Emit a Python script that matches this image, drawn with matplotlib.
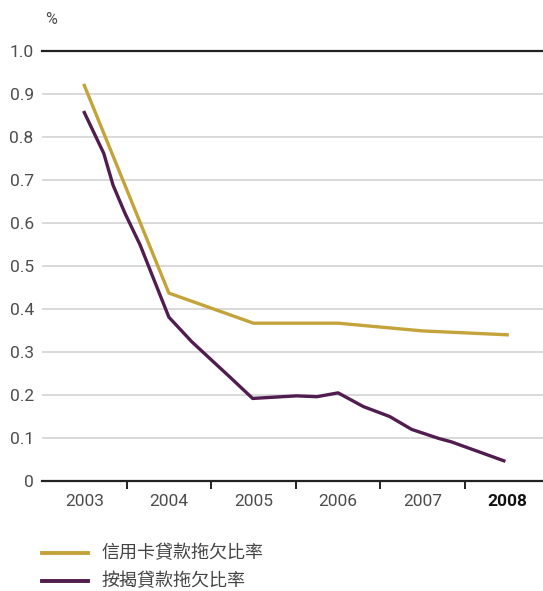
import matplotlib
matplotlib.use("Agg")
import matplotlib.pyplot as plt
from matplotlib.lines import Line2D

# delinquency ratios (%), x in fractional years
card_years = [2003.0, 2004.0, 2005.0, 2006.0, 2006.5, 2007.0, 2008.0]
card_ratio = [0.920, 0.437, 0.367, 0.367, 0.358, 0.349, 0.340]

mortgage_years = [2003.0, 2003.23, 2003.34, 2003.48, 2003.66, 2004.0, 2004.27,
                  2004.5, 2004.72, 2004.99, 2005.51, 2005.75, 2006.0, 2006.3,
                  2006.61, 2006.87, 2007.19, 2007.34, 2007.96]
mortgage_ratio = [0.857, 0.762, 0.688, 0.623, 0.549, 0.381, 0.324, 0.282,
                  0.242, 0.192, 0.198, 0.196, 0.205, 0.173, 0.150, 0.120,
                  0.099, 0.091, 0.047]

year_labels = ["2003", "2004", "2005", "2006", "2007", "2008"]
y_ticks = [0, 0.1, 0.2, 0.3, 0.4, 0.5, 0.6, 0.7, 0.8, 0.9, 1.0]
y_labels = ["0", "0.1", "0.2", "0.3", "0.4", "0.5", "0.6", "0.7", "0.8", "0.9", "1.0"]
series_names = ["信用卡貸款拖欠比率", "按揭貸款拖欠比率"]

GOLD = "#c4a33a"
PURPLE = "#511d4f"
TEXT = "#4d4d4d"
NUM_FONT = ["Roboto", "DejaVu Sans"]
CJK_FONT = ["Noto Sans CJK TC", "DejaVu Sans"]

W, H = 543, 591
fig = plt.figure(figsize=(W / 100, H / 100), dpi=100)
ax = fig.add_axes([42 / W, 1 - 481 / H, 1 - 42 / W, (481 - 51) / H])

# grid
for v in y_ticks[1:-1]:
    ax.axhline(v, color="#d3d3d3", lw=1.2, zorder=1)
ax.axhline(1.0, color="#222222", lw=1.6, zorder=2, clip_on=False)
ax.axhline(0.0, color="#222222", lw=1.6, zorder=2, clip_on=False)

ax.plot(card_years, card_ratio, color=GOLD, lw=2.4, zorder=3)
ax.plot(mortgage_years, mortgage_ratio, color=PURPLE, lw=2.4, zorder=4)

ax.set_xlim(2002.5, 2008.423)
ax.set_ylim(0, 1.0)
for s in ax.spines.values():
    s.set_visible(False)

# year labels centred in bands, ticks between bands
years = [int(y) for y in year_labels]
ax.set_xticks(years)
ax.set_xticklabels(year_labels, family=NUM_FONT, fontsize=12.5, color=TEXT)
ax.get_xticklabels()[-1].set_fontweight("bold")
ax.get_xticklabels()[-1].set_color("#111111")
ax.tick_params(axis="x", which="major", length=0, pad=9)
ax.set_xticks([y + 0.5 for y in years[:-1]], minor=True)
ax.tick_params(axis="x", which="minor", length=6, width=1.4, color="#222222", direction="out")

ax.set_yticks(y_ticks)
ax.set_yticklabels(y_labels, family=NUM_FONT, fontsize=12.5, color=TEXT)
ax.tick_params(axis="y", length=0, pad=6)

fig.text(45 / W, 1 - 20 / H, "%", family=NUM_FONT, fontsize=11.5,
         color=TEXT, ha="left", va="center")

# legend drawn by hand
colors = [GOLD, PURPLE]
for i, (name, c) in enumerate(zip(series_names, colors)):
    yy = 1 - (553 + 28 * i) / H
    fig.add_artist(Line2D([42 / W, 88 / W], [yy, yy], color=c, lw=2.8,
                          transform=fig.transFigure))
    fig.text(101 / W, yy, name, family=CJK_FONT, fontsize=13,
             color="#444444", ha="left", va="center")

fig.savefig("out.png", dpi=100)
